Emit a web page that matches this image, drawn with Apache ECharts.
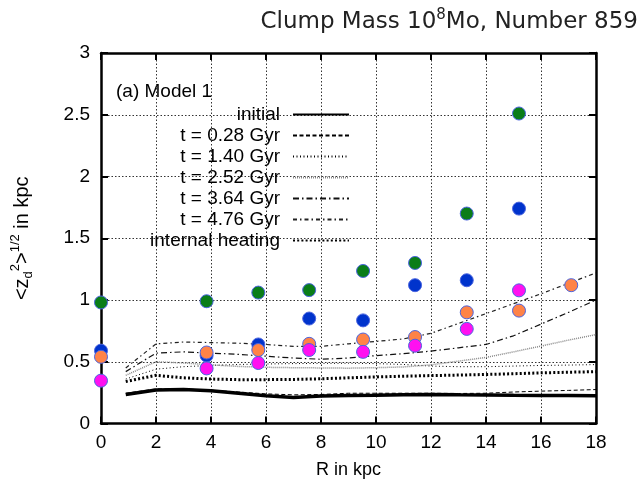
<!DOCTYPE html>
<html>
<head>
<meta charset="utf-8">
<script src="https://cdn.jsdelivr.net/npm/echarts@6/dist/echarts.min.js"></script>
<style>
html,body{margin:0;padding:0;background:#fff;}
#chart{width:642px;height:497px;}
</style>
</head>
<body>
<div id="chart"></div>
<script>
// ---- data ----
const xTicks = [0, 2, 4, 6, 8, 10, 12, 14, 16, 18];
const yTicks = [0, 0.5, 1, 1.5, 2, 2.5, 3];

const lineNames = ['initial', 't = 0.28 Gyr', 't = 1.40 Gyr', 't = 2.52 Gyr', 't = 3.64 Gyr', 't = 4.76 Gyr', 'internal heating'];
const R = [0.9, 2, 3, 4, 5, 6, 7, 8, 9, 10, 11, 12, 13, 14, 15, 16, 17, 18];
const initial  = [0.235, 0.272, 0.275, 0.265, 0.245, 0.225, 0.21, 0.222, 0.226, 0.228, 0.232, 0.235, 0.232, 0.23, 0.228, 0.227, 0.226, 0.225];
const t028     = [0.245, 0.28, 0.28, 0.27, 0.255, 0.24, 0.232, 0.235, 0.245, 0.245, 0.245, 0.245, 0.243, 0.245, 0.255, 0.262, 0.268, 0.275];
const t140     = [0.36, 0.44, 0.46, 0.47, 0.478, 0.482, 0.485, 0.487, 0.488, 0.485, 0.478, 0.465, 0.46, 0.46, 0.465, 0.47, 0.473, 0.477];
const t252     = [0.39, 0.5, 0.49, 0.475, 0.462, 0.455, 0.452, 0.45, 0.448, 0.452, 0.458, 0.475, 0.505, 0.535, 0.58, 0.627, 0.675, 0.72];
const t364     = [0.42, 0.57, 0.58, 0.57, 0.56, 0.545, 0.53, 0.52, 0.53, 0.55, 0.565, 0.586, 0.613, 0.64, 0.71, 0.805, 0.9, 1.0];
const t476     = [0.45, 0.645, 0.66, 0.655, 0.65, 0.64, 0.625, 0.625, 0.645, 0.665, 0.685, 0.73, 0.81, 0.89, 0.97, 1.05, 1.135, 1.22];
const heating  = [0.34, 0.39, 0.37, 0.36, 0.355, 0.355, 0.357, 0.362, 0.37, 0.377, 0.383, 0.388, 0.392, 0.397, 0.403, 0.41, 0.415, 0.42];

const greenPts   = [[0, 0.98], [3.84, 0.99], [5.72, 1.06], [7.57, 1.08], [9.53, 1.235], [11.42, 1.30], [13.3, 1.70], [15.2, 2.51]];
const bluePts    = [[0, 0.59], [3.84, 0.55], [5.72, 0.64], [7.57, 0.85], [9.53, 0.835], [11.42, 1.12], [13.3, 1.16], [15.2, 1.74]];
const orangePts  = [[0, 0.54], [3.84, 0.575], [5.72, 0.595], [7.57, 0.645], [9.53, 0.68], [11.42, 0.70], [13.3, 0.90], [15.2, 0.914], [17.1, 1.12]];
const magentaPts = [[0, 0.347], [3.84, 0.446], [5.72, 0.49], [7.57, 0.595], [9.53, 0.58], [11.42, 0.63], [13.3, 0.766], [15.2, 1.078]];

// ---- styles ----
const lineValues = [initial, t028, t140, t252, t364, t476, heating];
const lineStyles = [
  {color: '#000', width: 3.5, type: 'solid'},
  {color: '#000', width: 1, type: [4, 2.5]},
  {color: '#000', width: 1, type: [1, 2.5]},
  {color: '#888', width: 1.5, type: [1, 1]},
  {color: '#111', width: 1.2, type: [6, 3, 1.5, 3]},
  {color: '#222', width: 1.2, type: [4, 3, 1.5, 3]},
  {color: '#000', width: 3, type: [2, 2.2]}
];
const FONT = 'Liberation Sans, Arial, sans-serif';

const series = [];
lineNames.forEach((name, k) => {
  series.push({
    name: name,
    type: 'line',
    data: R.map((r, i) => [r, lineValues[k][i]]),
    symbol: 'circle',
    showSymbol: false,
    lineStyle: lineStyles[k],
    itemStyle: {color: lineStyles[k].color},
    z: 3,
    silent: true
  });
});
const scat = [
  ['green', greenPts, '#0a7d18'],
  ['blue', bluePts, '#0033cc'],
  ['orange', orangePts, '#ff8347'],
  ['magenta', magentaPts, '#ff10f0']
];
scat.forEach(([n, pts, c]) => {
  series.push({
    name: n,
    type: 'scatter',
    data: pts,
    symbol: 'circle',
    symbolSize: 13,
    itemStyle: {color: c, borderColor: '#4a64e0', borderWidth: 1, opacity: 1},
    z: 5,
    silent: true
  });
});

const chart = echarts.init(document.getElementById('chart'), null, {renderer: 'canvas'});
const axisCommon = {
  axisLine: {show: true, onZero: false, lineStyle: {color: '#000', width: 2.5}},
  axisTick: {show: true, inside: true, length: 7, lineStyle: {color: '#000', width: 2}}
};
chart.setOption({
  animation: false,
  backgroundColor: '#fff',
  title: {
    text: 'Clump Mass 10{sup|8}Mo, Number 859',
    right: 4, top: 8, padding: 0,
    textStyle: {
      fontFamily: 'DejaVu Sans', fontSize: 23, fontWeight: 'normal', color: '#222', lineHeight: 28,
      rich: {sup: {fontFamily: 'DejaVu Sans', fontSize: 15, color: '#222', verticalAlign: 'top', lineHeight: 16}}
    }
  },
  graphic: [{
    type: 'text', left: 116, top: 82,
    style: {text: '(a) Model 1', font: '19px ' + FONT, fill: '#000'}
  }],
  legend: {
    data: lineNames,
    orient: 'vertical',
    align: 'right',
    right: 292, top: 104,
    padding: 0,
    itemGap: 0,
    itemWidth: 56,
    itemHeight: 10,
    itemStyle: {color: 'rgba(0,0,0,0)', borderWidth: 0, opacity: 0},
    textStyle: {fontFamily: FONT, fontSize: 19, color: '#000', lineHeight: 21, padding: [0, 8, 0, 0]},
    selectedMode: false
  },
  grid: {left: 101, right: 46, top: 53, bottom: 73.5, containLabel: false},
  xAxis: [
    Object.assign({
      type: 'value', min: 0, max: 18, interval: 2, position: 'bottom',
      name: 'R in kpc', nameLocation: 'middle', nameGap: 38,
      nameTextStyle: {fontFamily: FONT, fontSize: 18, color: '#000'},
      axisLabel: {fontFamily: FONT, fontSize: 19, color: '#000', margin: 10,
        formatter: v => xTicks.indexOf(v) >= 0 ? String(v) : ''},
      splitLine: {show: true, lineStyle: {color: '#333', width: 1, type: [1.5, 2]}}
    }, axisCommon),
    Object.assign({
      type: 'value', min: 0, max: 18, interval: 2, position: 'top',
      axisLabel: {show: false}, splitLine: {show: false}
    }, axisCommon)
  ],
  yAxis: [
    Object.assign({
      type: 'value', min: 0, max: 3, interval: 0.5, position: 'left',
      name: '{n|<z}{sub|d}{sup|2}{n|>}{sup|1/2}{n| in kpc}',
      nameLocation: 'middle', nameRotate: 90, nameGap: 66,
      nameTextStyle: {
        fontFamily: FONT, fontSize: 20, color: '#000',
        rich: {
          n: {fontFamily: FONT, fontSize: 20, color: '#000', lineHeight: 26},
          sub: {fontFamily: FONT, fontSize: 13, color: '#000', verticalAlign: 'bottom', lineHeight: 14},
          sup: {fontFamily: FONT, fontSize: 13, color: '#000', verticalAlign: 'top', lineHeight: 14}
        }
      },
      axisLabel: {fontFamily: FONT, fontSize: 19, color: '#000', margin: 11,
        formatter: v => yTicks.indexOf(v) >= 0 ? String(v) : ''},
      splitLine: {show: true, lineStyle: {color: '#333', width: 1, type: [1.5, 2]}}
    }, axisCommon),
    Object.assign({
      type: 'value', min: 0, max: 3, interval: 0.5, position: 'right',
      axisLabel: {show: false}, splitLine: {show: false}
    }, axisCommon)
  ],
  series: series
});
</script>
</body>
</html>
